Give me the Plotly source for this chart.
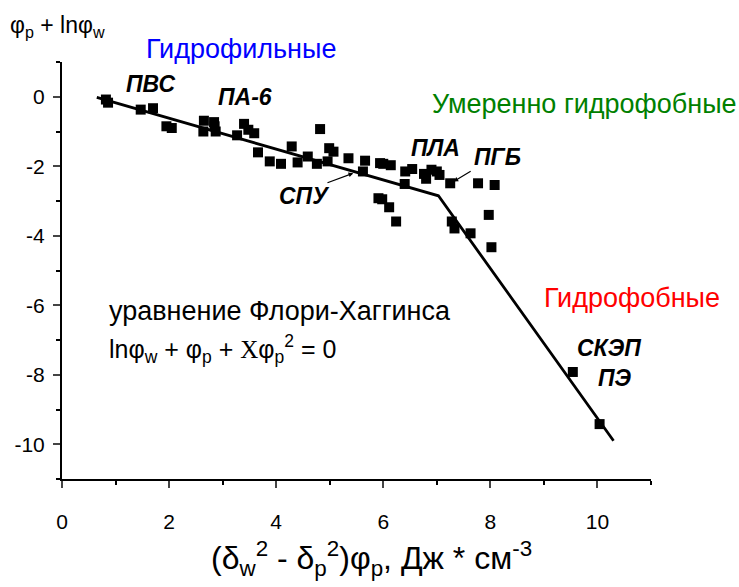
import plotly.graph_objects as go

# data points
pts_x = [0.82, 0.86, 1.47, 1.70, 1.95, 2.05, 2.65, 2.64, 2.84, 2.85, 2.87, 3.27, 3.40, 3.48, 3.59, 3.66,
         3.88, 4.09, 4.29, 4.40, 4.59, 4.76, 4.82, 4.96, 4.99, 5.07, 5.35, 5.62, 5.66, 5.94, 5.91,
         6.00, 6.14, 6.40, 6.41, 6.54, 5.98, 6.11, 6.24, 6.76, 6.80, 6.90, 7.00, 7.05, 7.25, 7.77,
         8.08, 7.28, 7.33, 7.63, 7.97, 8.02, 9.54, 10.04]
pts_y = [-0.08, -0.17, -0.37, -0.33, -0.85, -0.9, -0.69, -1.0, -0.73, -0.85, -1.0, -1.11, -0.78, -0.95, -1.05, -1.6,
         -1.86, -1.93, -1.43, -1.89, -1.72, -1.93, -0.93, -1.86, -1.48, -1.58, -1.77, -2.15, -1.84, -1.91, -2.92,
         -1.93, -1.97, -2.51, -2.15, -2.08, -2.95, -3.18, -3.59, -2.22, -2.36, -2.10, -2.15, -2.25, -2.49, -2.49,
         -2.54, -3.59, -3.79, -3.93, -3.40, -4.33, -7.92, -9.42]

# fitted piecewise line
line_x = [0.65, 7.03, 10.3]
line_y = [-0.02, -2.85, -9.9]

x_ticks = [0, 2, 4, 6, 8, 10]
x_ticktext = ["0", "2", "4", "6", "8", "10"]
y_ticks = [0, -2, -4, -6, -8, -10]
y_ticktext = ["0", "-2", "-4", "-6", "-8", "-10"]

reg_font = "Liberation Sans, Arial"

fig = go.Figure()
fig.add_trace(go.Scatter(x=line_x, y=line_y, mode="lines",
                         line=dict(color="black", width=2.8), showlegend=False))
fig.add_trace(go.Scatter(x=pts_x, y=pts_y, mode="markers",
                         marker=dict(symbol="square", size=10, color="black"), showlegend=False))

lab_font = dict(family=reg_font, size=23, color="black")
def lab(text, x, y):
    fig.add_annotation(x=x, y=y, text="<b><i>" + text + "</i></b>", showarrow=False, font=lab_font)

lab("ПВС", 1.67, 0.37)
lab("ПА-6", 3.41, 0.0)
lab("СПУ", 4.53, -2.87)
lab("ПЛА", 6.97, -1.47)
lab("ПГБ", 8.13, -1.74)
lab("СКЭП", 10.22, -7.23)
lab("ПЭ", 10.32, -8.1)

# arrows
fig.add_annotation(x=5.44, y=-2.2, ax=4.93, ay=-2.49, axref="x", ayref="y", xref="x", yref="y",
                   text="", showarrow=True, arrowhead=2, arrowsize=0.8, arrowwidth=1.2, arrowcolor="black")
fig.add_annotation(x=7.31, y=-2.44, ax=7.66, ay=-2.12, axref="x", ayref="y", xref="x", yref="y",
                   text="", showarrow=True, arrowhead=2, arrowsize=0.8, arrowwidth=1.2, arrowcolor="black")

fig.add_annotation(xref="paper", yref="paper", x=0.304, y=1.031, xanchor="center", yanchor="middle",
                   text="Гидрофильные", showarrow=False,
                   font=dict(family=reg_font, size=27, color="#0000ff"))
fig.add_annotation(x=9.76, y=-0.2, text="Умеренно гидрофобные", showarrow=False,
                   font=dict(family=reg_font, size=27, color="#008000"))
fig.add_annotation(x=10.65, y=-5.79, text="Гидрофобные", showarrow=False,
                   font=dict(family=reg_font, size=27, color="#ff0000"))
fig.add_annotation(x=0.84, y=-6.17, xanchor="left", text="уравнение Флори-Хаггинса", showarrow=False,
                   font=dict(family=reg_font, size=27, color="black"))
fig.add_annotation(x=0.84, y=-7.26, xanchor="left",
                   text="lnφ<sub>w</sub> + φ<sub>p</sub> + <span style='font-family:Liberation Serif'>Χ</span>φ<sub>p</sub><sup>2</sup> = 0",
                   showarrow=False, font=dict(family=reg_font, size=25, color="black"))

# y-axis title at top-left
fig.add_annotation(xref="paper", yref="paper", x=-0.092, y=1.085, xanchor="left", yanchor="middle",
                   text="φ<sub>p</sub> + lnφ<sub>w</sub>", showarrow=False,
                   font=dict(family=reg_font, size=23, color="black"))

# x-axis title
fig.add_annotation(xref="paper", yref="paper", x=0.525, y=-0.19, xanchor="center", yanchor="middle",
                   text="(δ<sub>w</sub><sup>2</sup> - δ<sub>p</sub><sup>2</sup>)φ<sub>p</sub>, Дж * см<sup>-3</sup>",
                   showarrow=False, font=dict(family=reg_font, size=32, color="black"))

fig.update_xaxes(range=[0, 11], tickvals=x_ticks, ticktext=x_ticktext, ticks="outside", ticklen=7, tickwidth=1.5,
                 showline=True, linecolor="black", linewidth=2, showgrid=False, zeroline=False,
                 ticklabelstandoff=16,
                 tickfont=dict(family=reg_font, size=21, color="black"),
                 minor=dict(dtick=1, ticks="outside", ticklen=4, tickwidth=1.5, tickcolor="black"))
fig.update_yaxes(range=[-11, 1], tickvals=y_ticks, ticktext=y_ticktext, ticks="outside", ticklen=7, tickwidth=1.5,
                 showline=True, linecolor="black", linewidth=2, showgrid=False, zeroline=False,
                 ticklabelstandoff=4,
                 tickfont=dict(family=reg_font, size=21, color="black"),
                 minor=dict(dtick=1, ticks="outside", ticklen=4, tickwidth=1.5, tickcolor="black"))

fig.update_layout(width=739, height=587, margin=dict(l=62, r=88, t=62, b=108),
                  plot_bgcolor="white", paper_bgcolor="white")

fig.write_html("out.html")
